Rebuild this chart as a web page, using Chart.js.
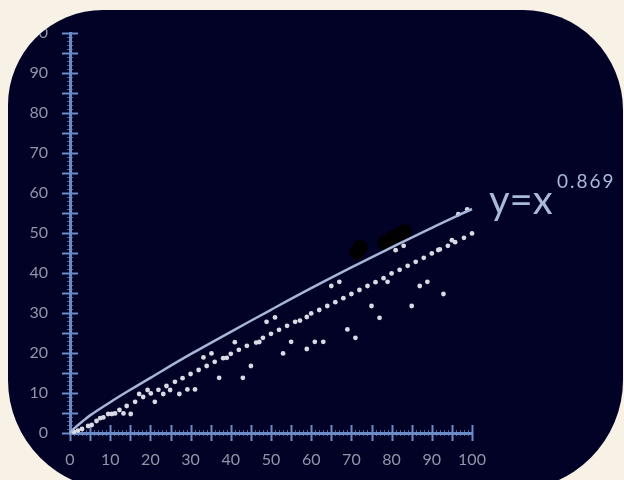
<!DOCTYPE html>
<html>
<head>
<meta charset="utf-8">
<script src="https://cdn.jsdelivr.net/npm/chart.js@4.4.1/dist/chart.umd.min.js"></script>
<style>
  html, body { margin: 0; padding: 0; }
  body { width: 624px; height: 480px; background: #f7f1e6; position: relative; overflow: hidden; }
  #panel {
    position: absolute; left: 8px; top: 10px; width: 615px; height: 480px; overflow: hidden;
    background: #020226; border-radius: 95px 100px 110px 110px;
  }
  #chart { position: absolute; left: -8px; top: -10px; }
</style>
</head>
<body>
<div id="panel"><canvas id="chart" width="624" height="480"></canvas></div>
<script>
// fitted curve
const curveX = [0, 1, 3, 5, 10, 15, 20, 30, 40, 50, 60, 70, 80, 90, 100];
const curveY = [0, 1.1, 2.8, 4.4, 7.7, 10.8, 13.8, 19.7, 25.3, 30.8, 36.2, 41.4, 46.4, 51.3, 56];

// dots sitting on the y = x/2 line
const lineDotsX = [1, 2, 3, 4.5, 5.4, 6.6, 7.5, 8.3, 9.5, 10.4, 11.2, 12.3, 14.1, 16.2, 18.2, 20.1, 22, 24, 26.1, 28,
  30, 32, 34, 36, 38.1, 39, 40, 42, 44, 46.3, 47.1, 48, 50, 52, 54, 56, 57.2, 58.9, 60, 62, 64, 66, 68, 70,
  72, 74, 76, 78, 79, 80, 82, 84, 86, 88, 90, 91.6, 92, 94, 95, 95.8, 98, 100];
const lineDotsY = [0.3, 0.6, 1, 1.75, 2, 3, 3.7, 3.9, 4.75, 4.75, 4.9, 5.75, 6.75, 7.8, 9, 9.9, 10.8, 11.75, 12.8, 13.7,
  14.75, 15.75, 16.75, 17.8, 18.7, 18.8, 19.8, 20.8, 21.8, 22.6, 22.75, 23.8, 24.8, 25.8, 26.8, 27.8, 28.1, 29, 29.9, 30.75, 31.75, 32.7, 33.7, 34.75,
  35.75, 36.75, 37.7, 38.7, 37.8, 39.9, 40.8, 41.8, 42.8, 43.8, 44.9, 45.75, 45.9, 46.8, 48.2, 47.7, 48.8, 49.9];

// scattered dots off the line
const strayDotsX = [13.3, 15.1, 17.2, 19.3, 21.1, 23.2, 24.9, 27.2, 29.2, 31.1, 33.2, 35.2, 37.1, 41, 43, 45, 48.9, 51,
  53, 55, 58.9, 60.9, 63, 65, 67, 69, 71, 75, 77, 81, 83, 85, 87, 88.9, 92.9, 96.6, 98.8];
const strayDotsY = [4.9, 4.75, 9.75, 10.75, 7.8, 9.75, 10.75, 9.75, 10.9, 10.9, 18.9, 19.9, 13.8, 22.7, 13.8, 16.75, 27.8, 28.9,
  19.9, 22.8, 21, 22.8, 22.8, 36.75, 37.8, 25.9, 23.8, 31.75, 28.8, 45.7, 46.8, 31.75, 36.75, 37.8, 34.75, 54.7, 55.9];

// the two black smudges over the curve
const blobX = [71.3, 72.2, 78.3, 80, 81.8, 83.2];
const blobY = [45.2, 46.4, 47.6, 48.7, 49.6, 50.3];

const xTicks = [0, 10, 20, 30, 40, 50, 60, 70, 80, 90, 100];
const yTicks = [0, 10, 20, 30, 40, 50, 60, 70, 80, 90, 100];

const axisColor = '#6a8bc6';
const zip = (xs, ys) => xs.map((x, i) => ({ x: x, y: ys[i] }));

// ticks crossing the axis lines
const crossTicks = {
  id: 'crossTicks',
  beforeDatasetsDraw(chart) {
    const { ctx, chartArea, scales } = chart;
    ctx.save();
    ctx.strokeStyle = axisColor;
    for (let v = 0; v <= 100; v++) {
      const len = v % 5 === 0 ? 8 : 3;
      ctx.lineWidth = v % 5 === 0 ? 2 : 1;
      ctx.globalAlpha = v % 5 === 0 ? 1 : 0.7;
      const px = Math.round(scales.x.getPixelForValue(v)) + 0.5;
      ctx.beginPath();
      ctx.moveTo(px, chartArea.bottom - len);
      ctx.lineTo(px, chartArea.bottom + len);
      ctx.stroke();
      const py = Math.round(scales.y.getPixelForValue(v)) + 0.5;
      ctx.beginPath();
      ctx.moveTo(chartArea.left - len, py);
      ctx.lineTo(chartArea.left + len, py);
      ctx.stroke();
    }
    ctx.restore();
  }
};

const formulaLabel = {
  id: 'formulaLabel',
  afterDatasetsDraw(chart) {
    const ctx = chart.ctx;
    ctx.save();
    ctx.fillStyle = '#a9b9da';
    ctx.textBaseline = 'alphabetic';
    ctx.font = '40px Lato';
    ctx.fillText('y=x', 489, 214);
    ctx.font = '19px Lato';
    ctx.letterSpacing = '2px';
    ctx.fillText('0.869', 557, 188);
    ctx.restore();
  }
};

new Chart(document.getElementById('chart'), {
  type: 'scatter',
  data: {
    datasets: [
      {
        type: 'line', data: zip(curveX, curveY), borderColor: '#a7b6d8', borderWidth: 2.5,
        pointRadius: 0, tension: 0.4, clip: false
      },
      { data: zip(lineDotsX, lineDotsY), backgroundColor: '#d9dbe4', borderWidth: 0, pointRadius: 2.4, clip: false },
      { data: zip(strayDotsX, strayDotsY), backgroundColor: '#d9dbe4', borderWidth: 0, pointRadius: 2.4, clip: false },
      { data: zip(blobX, blobY), backgroundColor: '#000000', borderWidth: 0, pointRadius: 7.5, clip: false }
    ]
  },
  options: {
    responsive: false,
    animation: false,
    events: [],
    layout: { padding: { left: 0, right: 152, top: 33, bottom: 0 } },
    plugins: { legend: { display: false }, tooltip: { enabled: false } },
    scales: {
      x: {
        type: 'linear', min: 0, max: 100,
        afterFit: s => { s.height = 47; },
        afterBuildTicks: s => { s.ticks = xTicks.map(v => ({ value: v })); },
        ticks: { color: '#9195a8', font: { family: 'Lato', size: 16 }, padding: 17, maxRotation: 0 },
        grid: { drawOnChartArea: false, drawTicks: false },
        border: { color: axisColor, width: 3 }
      },
      y: {
        type: 'linear', min: 0, max: 100,
        afterFit: s => { s.width = 70; },
        afterBuildTicks: s => { s.ticks = yTicks.map(v => ({ value: v })); },
        ticks: { color: '#9195a8', font: { family: 'Lato', size: 16 }, padding: 22 },
        grid: { drawOnChartArea: false, drawTicks: false },
        border: { color: axisColor, width: 3 }
      }
    }
  },
  plugins: [crossTicks, formulaLabel]
});
</script>
</body>
</html>
